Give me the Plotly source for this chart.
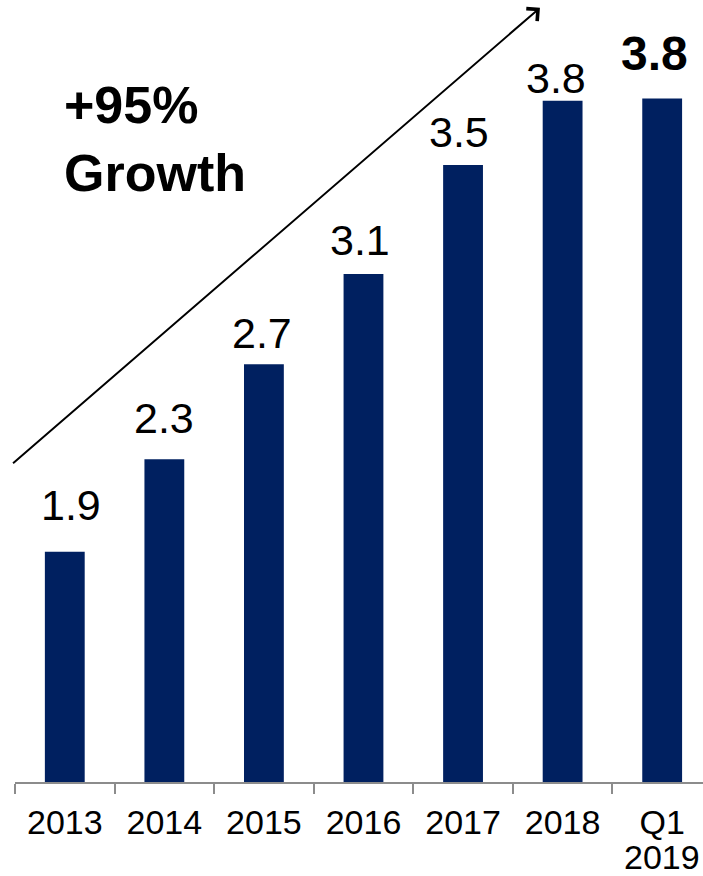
import plotly.graph_objects as go

categories = ["2013", "2014", "2015", "2016", "2017", "2018", "Q1 2019"]
tick_text = ["2013", "2014", "2015", "2016", "2017", "2018", "Q1"]
last_tick_second_line = "2019"
values = [1.90, 2.29, 2.69, 3.07, 3.53, 3.80, 3.81]
value_labels = ["1.9", "2.3", "2.7", "3.1", "3.5", "3.8", "3.8"]
label_bold = [False, False, False, False, False, False, True]

NAVY = "#002060"
FONT = "Liberation Sans, Arial, sans-serif"

fig = go.Figure()
fig.add_trace(go.Bar(
    x=categories, y=values, width=0.40,
    marker=dict(color=NAVY, line=dict(width=0)),
    hoverinfo="skip",
))

label_yshift = [21, 15, 5, 8, 7, -3, 16]
label_xshift = [6, 0, -2, -3, -4, -7, -8]
for i, (v, t, b) in enumerate(zip(values, value_labels, label_bold)):
    fig.add_annotation(
        x=i, y=v, xref="x", yref="y", text=f"<b>{t}</b>" if b else t,
        showarrow=False, yanchor="bottom",
        yshift=label_yshift[i], xshift=label_xshift[i],
        font=dict(family=FONT, size=48 if b else 43, color="#000000"),
    )

# second line of the last category label
fig.add_annotation(
    x=len(categories) - 1, y=0, xref="x", yref="paper",
    text=last_tick_second_line, showarrow=False,
    yanchor="top", yshift=-54,
    font=dict(family=FONT, size=34, color="#000000"),
)

# growth arrow
fig.add_annotation(
    xref="x domain", yref="y domain", axref="x domain", ayref="y domain",
    x=0.763, y=0.990, ax=-0.005, ay=0.406,
    text="", showarrow=True, arrowhead=4, arrowsize=1.6, arrowwidth=2,
    arrowcolor="#000000", standoff=0, startstandoff=0,
)

fig.add_annotation(
    xref="paper", yref="paper", x=0.068, y=0.905,
    xanchor="left", yanchor="top", align="left", showarrow=False,
    text="<b>+95%<br>Growth</b>",
    font=dict(family=FONT, size=52, color="#000000"),
)

fig.update_layout(
    width=703, height=876,
    margin=dict(l=15, r=0, t=0, b=94, autoexpand=False),
    paper_bgcolor="white", plot_bgcolor="white",
    showlegend=False, bargap=0.6,
    xaxis=dict(
        type="category", range=[-0.5, 6.41], automargin=False,
        tickmode="array", tickvals=categories, ticktext=tick_text,
        showline=True, linecolor="#8c8c8c", linewidth=2,
        ticks="outside", tickson="boundaries", ticklen=10, tickwidth=2,
        tickcolor="#8c8c8c", showgrid=False, zeroline=False,
        tickfont=dict(family=FONT, size=34, color="#000000"),
        ticklabelstandoff=9,
    ),
    yaxis=dict(range=[0.93, 4.225], visible=False, showgrid=False, zeroline=False),
)

fig.write_html("out.html")
